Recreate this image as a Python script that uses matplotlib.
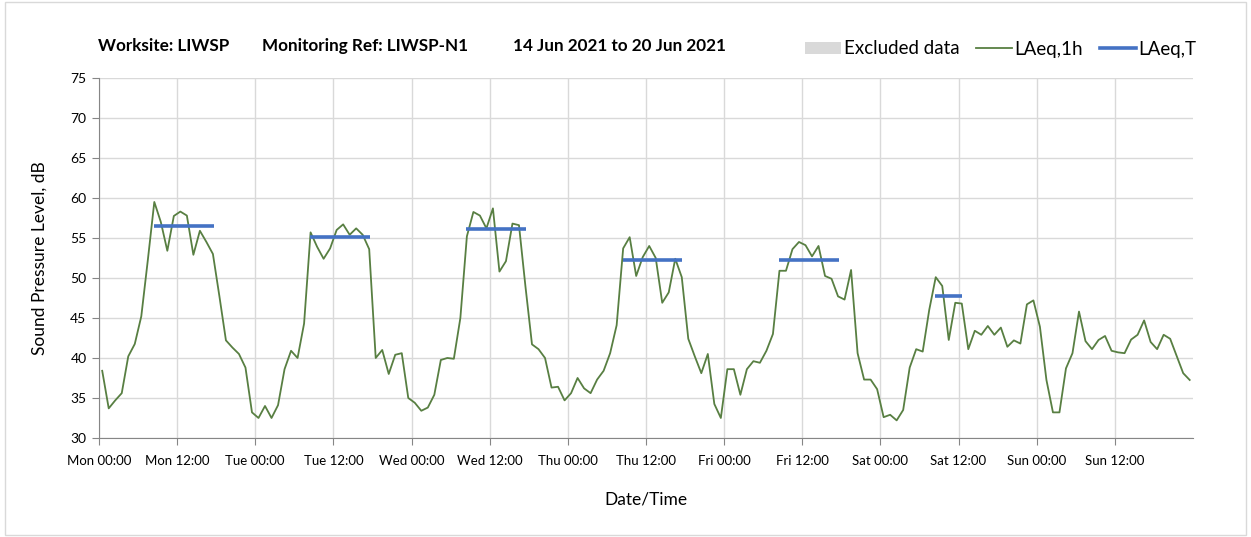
import numpy as np
import matplotlib
matplotlib.use("Agg")
import matplotlib.pyplot as plt
from matplotlib.lines import Line2D
from matplotlib.patches import Patch, Rectangle

# hourly LAeq,1h values, Mon 00:00 .. Sun 23:00
mon = [38.4, 33.7, 34.7, 35.6, 40.2, 41.75, 45.2, 52.2, 59.5, 57.0, 53.4, 57.75,
       58.3, 57.8, 52.9, 55.9, 54.5, 53.0, 47.7, 42.2, 41.3, 40.5, 38.8, 33.2]
tue = [32.5, 34.0, 32.5, 34.1, 38.6, 40.9, 40.0, 44.3, 55.7, 53.9, 52.4, 53.7,
       56.0, 56.7, 55.4, 56.2, 55.4, 53.6, 40.0, 41.0, 38.0, 40.4, 40.6, 35.0]
wed = [34.4, 33.4, 33.8, 35.4, 39.75, 40.0, 39.9, 45.0, 55.2, 58.25, 57.8, 56.2,
       58.7, 50.8, 52.1, 56.8, 56.6, 48.9, 41.7, 41.1, 40.0, 36.3, 36.4, 34.7]
thu = [35.6, 37.5, 36.2, 35.6, 37.3, 38.4, 40.6, 44.1, 53.7, 55.1, 50.25, 52.6,
       54.0, 52.5, 46.9, 48.2, 52.4, 50.1, 42.4, 40.2, 38.1, 40.5, 34.25, 32.5]
fri = [38.6, 38.6, 35.4, 38.6, 39.6, 39.4, 40.9, 43.0, 50.9, 50.9, 53.6, 54.5,
       54.1, 52.7, 54.0, 50.25, 49.9, 47.7, 47.3, 51.0, 40.6, 37.3, 37.3, 36.1]
sat = [32.6, 32.9, 32.2, 33.5, 38.8, 41.1, 40.8, 46.0, 50.1, 49.0, 42.25, 46.9,
       46.8, 41.1, 43.4, 42.9, 44.0, 42.9, 43.8, 41.4, 42.2, 41.8, 46.7, 47.2]
sun = [43.9, 37.25, 33.2, 33.2, 38.7, 40.6, 45.8, 42.1, 41.1, 42.25, 42.75, 40.9,
       40.7, 40.6, 42.3, 42.9, 44.7, 42.0, 41.1, 42.9, 42.4, 40.25, 38.1, 37.25]
laeq_1h = mon + tue + wed + thu + fri + sat + sun

# LAeq,T over the working periods (start hour, end hour, level)
laeq_t_start = [8.4, 32.4, 56.4, 80.4, 104.4, 128.4]
laeq_t_end = [17.6, 41.6, 65.6, 89.6, 113.6, 132.5]
laeq_t_level = [56.5, 55.1, 56.1, 52.2, 52.3, 47.8]

days = ["Mon", "Tue", "Wed", "Thu", "Fri", "Sat", "Sun"]
tick_labels = []
for d in days:
    tick_labels += [d + " 00:00", d + " 12:00"]

plt.rcParams['font.family'] = ['Lato', 'DejaVu Sans']

fig = plt.figure(figsize=(12.51, 5.37), dpi=100)
ax = fig.add_axes([0.0791, 0.1844, 0.8745, 0.6704])

hours = np.arange(len(laeq_1h)) + 0.5
ax.plot(hours, laeq_1h, color='#587f42', lw=1.3, zorder=3)
for s, e, v in zip(laeq_t_start, laeq_t_end, laeq_t_level):
    ax.plot([s, e], [v, v], color='#4472c4', lw=2.6, solid_capstyle='butt', zorder=4)

ax.set_xlim(0, 168)
ax.set_ylim(30, 75)
ax.set_xticks(np.arange(0, 168, 12))
ax.set_xticklabels(tick_labels, fontsize=9.5)
ax.set_yticks(np.arange(30, 76, 5))
ax.tick_params(axis='y', labelsize=10, length=5, color='#868686', pad=4)
ax.tick_params(axis='x', length=5, color='#868686', pad=7)
ax.grid(True, color='#d9d9d9', lw=1.0)
ax.set_axisbelow(True)
for side in ['top', 'right']:
    ax.spines[side].set_visible(False)
for side in ['left', 'bottom']:
    ax.spines[side].set_color('#868686')

ax.set_ylabel('Sound Pressure Level, dB', fontsize=12.5, labelpad=16)
ax.set_xlabel('Date/Time', fontsize=12.5, labelpad=18)

# title parts
ty = 1 - 46 / 537
fig.text(98 / 1251, ty, 'Worksite: LIWSP', fontsize=12.3, fontweight='bold', va='center')
fig.text(262 / 1251, ty, 'Monitoring Ref: LIWSP-N1', fontsize=12.3, fontweight='bold', va='center')
fig.text(513 / 1251, ty, '14 Jun 2021 to 20 Jun 2021', fontsize=12.3, fontweight='bold', va='center')

handles = [Patch(facecolor='#d9d9d9', edgecolor='none'),
           Line2D([], [], color='#587f42', lw=1.3),
           Line2D([], [], color='#4472c4', lw=2.6)]
fig.legend(handles, ['Excluded data', 'LAeq,1h', 'LAeq,T'], ncol=3, frameon=False,
           fontsize=13.5, loc='center right', bbox_to_anchor=(0.97, 1 - 49 / 537),
           handlelength=1.9, handleheight=0.6, handletextpad=0.15, columnspacing=0.9)

# outer border
fig.patches.append(Rectangle((0.004, 0.004), 0.992, 0.992, transform=fig.transFigure,
                             fill=False, edgecolor='#d9d9d9', lw=1.0))

fig.savefig('out.png', dpi=100)
